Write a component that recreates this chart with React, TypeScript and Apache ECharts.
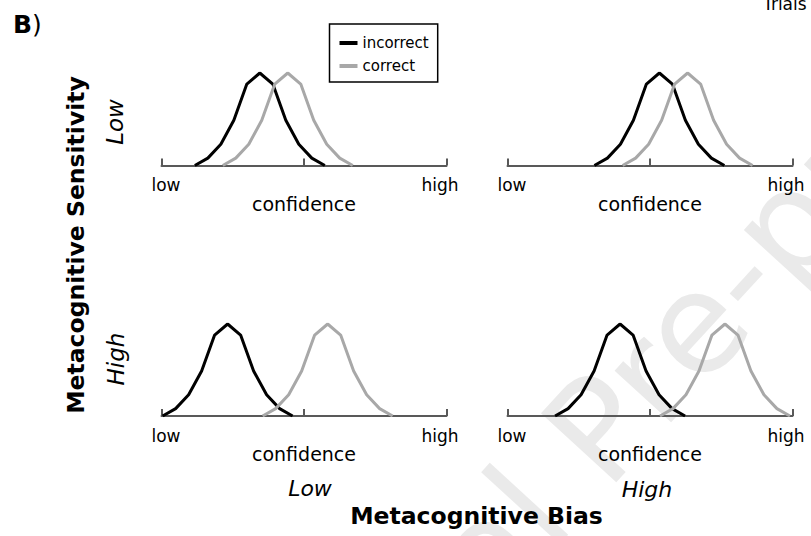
import React, { useEffect, useRef } from "react";
import * as echarts from "echarts";

const FONT = '"DejaVu Sans", Verdana, sans-serif';

// Panel order: top-left, top-right, bottom-left, bottom-right
const panelNames = ["lowBias_lowSens", "highBias_lowSens", "lowBias_highSens", "highBias_highSens"];
// Confidence-axis position (0 = low, 100 = high) where each distribution starts
const incorrectStart = [11.7, 30.5, 0.4, 16.7];
const correctStart = [21.5, 40.4, 35.5, 53.5];
// Offsets of the sampled confidence bins from the start of a distribution
const binOffsets = [0, 4.56, 9.12, 13.68, 18.24, 22.8, 27.36, 31.92, 36.48, 41.04, 45.6];
// Relative trial density at each bin (same shape for every distribution)
const densityShape = [0, 0.08, 0.23, 0.49, 0.88, 1, 0.88, 0.49, 0.23, 0.08, 0];

const axisTicks = [0, 50, 100];
const tickLabels = ["low", "", "high"];
const seriesNames = ["incorrect", "correct"];
const seriesColors = ["#000000", "#a8a8a8"];

const gridBoxes = [
  { left: 161.5, top: 73, width: 285, height: 92.5 },
  { left: 507.5, top: 73, width: 285, height: 92.5 },
  { left: 161.5, top: 324, width: 285, height: 92 },
  { left: 507.5, top: 324, width: 285, height: 92 },
];

function curve(start: number): number[][] {
  return binOffsets.map((o, i) => [start + o, densityShape[i]]);
}

export default function App() {
  const ref = useRef<HTMLDivElement>(null);
  useEffect(() => {
    document.body.style.margin = "0";
    const chart = echarts.init(ref.current!, null, { renderer: "svg" });
    const grids = gridBoxes.map((g) => ({ ...g, containLabel: false }));
    const xAxes = gridBoxes.map((_, i) => ({
      gridIndex: i,
      type: "value",
      min: 0,
      max: 100,
      interval: 50,
      axisLine: { show: true, lineStyle: { color: "#595959", width: 2 } },
      axisTick: { show: true, inside: true, length: 7, lineStyle: { color: "#595959", width: 2 } },
      splitLine: { show: false },
      axisLabel: {
        show: true,
        showMinLabel: true,
        showMaxLabel: true,
        margin: 11,
        formatter: (v: number) => {
          const k = axisTicks.indexOf(v);
          if (k === 0) return "{lo|" + tickLabels[0] + "}";
          if (k === 2) return "{hi|" + tickLabels[2] + "}";
          return "";
        },
        rich: {
          lo: { fontSize: 17, fontFamily: FONT, color: "#000", padding: [0, 0, 0, 9] },
          hi: { fontSize: 17, fontFamily: FONT, color: "#000", padding: [0, 13, 0, 0] },
        },
      },
      name: "confidence",
      nameLocation: "middle",
      nameGap: 24,
      nameTextStyle: { fontSize: 19, fontFamily: FONT, color: "#000" },
    }));
    const yAxes = gridBoxes.map((_, i) => ({
      gridIndex: i,
      type: "value",
      min: 0,
      max: 1,
      show: false,
    }));
    const series: any[] = [];
    panelNames.forEach((p, i) => {
      [incorrectStart[i], correctStart[i]].forEach((s, k) => {
        series.push({
          id: p + "_" + seriesNames[k],
          name: seriesNames[k],
          type: "line",
          xAxisIndex: i,
          yAxisIndex: i,
          data: curve(s),
          symbol: "none",
          smooth: false,
          itemStyle: { color: seriesColors[k] },
          lineStyle: { color: seriesColors[k], width: 3 },
          z: 2 + k,
        });
      });
    });

    const wmAngle = (47.5 * Math.PI) / 180;
    chart.setOption({
      animation: false,
      backgroundColor: "#ffffff",
      grid: grids,
      xAxis: xAxes,
      yAxis: yAxes,
      series,
      legend: {
        data: seriesNames,
        orient: "vertical",
        left: 329.5,
        top: 24,
        icon: "rect",
        itemWidth: 18,
        itemHeight: 4,
        itemGap: 7,
        padding: [11, 9, 8, 10],
        borderColor: "#000",
        borderWidth: 1.5,
        selectedMode: false,
        textStyle: { fontSize: 15, fontFamily: FONT, color: "#000", lineHeight: 16 },
      },
      graphic: [
        {
          type: "text",
          x: 214,
          y: 849,
          rotation: wmAngle,
          z: -10,
          silent: true,
          style: {
            text: "Journal Pre-proof",
            fontSize: 140,
            fontFamily: FONT,
            fill: "#eaeaea",
            align: "left",
            verticalAlign: "middle",
          },
        },
        {
          type: "text",
          x: 13,
          y: 24,
          style: {
            text: "{b|B}{p|)}",
            rich: {
              b: { fontSize: 25, fontWeight: "bold", fontFamily: FONT, fill: "#000" },
              p: { fontSize: 25, fontFamily: FONT, fill: "#000" },
            },
            align: "left",
            verticalAlign: "middle",
          },
        },
        {
          type: "text",
          x: 763,
          y: 4,
          style: { text: "Trials", fontSize: 17, fontFamily: FONT, fill: "#000", align: "left", verticalAlign: "middle" },
        },
        {
          type: "text",
          x: 75.5,
          y: 245,
          rotation: Math.PI / 2,
          style: {
            text: "Metacognitive Sensitivity",
            fontSize: 23.5,
            fontWeight: "bold",
            fontFamily: FONT,
            fill: "#000",
            align: "center",
            verticalAlign: "middle",
          },
        },
        {
          type: "text",
          x: 115,
          y: 122,
          rotation: Math.PI / 2,
          style: { text: "Low", fontSize: 23, fontStyle: "italic", fontFamily: FONT, fill: "#000", align: "center", verticalAlign: "middle" },
        },
        {
          type: "text",
          x: 116,
          y: 359,
          rotation: Math.PI / 2,
          style: { text: "High", fontSize: 23, fontStyle: "italic", fontFamily: FONT, fill: "#000", align: "center", verticalAlign: "middle" },
        },
        {
          type: "text",
          x: 310,
          y: 488,
          style: { text: "Low", fontSize: 22, fontStyle: "italic", fontFamily: FONT, fill: "#000", align: "center", verticalAlign: "middle" },
        },
        {
          type: "text",
          x: 647,
          y: 489,
          style: { text: "High", fontSize: 22, fontStyle: "italic", fontFamily: FONT, fill: "#000", align: "center", verticalAlign: "middle" },
        },
        {
          type: "text",
          x: 476.5,
          y: 516,
          style: {
            text: "Metacognitive Bias",
            fontSize: 23.5,
            fontWeight: "bold",
            fontFamily: FONT,
            fill: "#000",
            align: "center",
            verticalAlign: "middle",
          },
        },
      ],
    });
    return () => chart.dispose();
  }, []);
  return <div ref={ref} style={{ width: 811, height: 536 }} />;
}
